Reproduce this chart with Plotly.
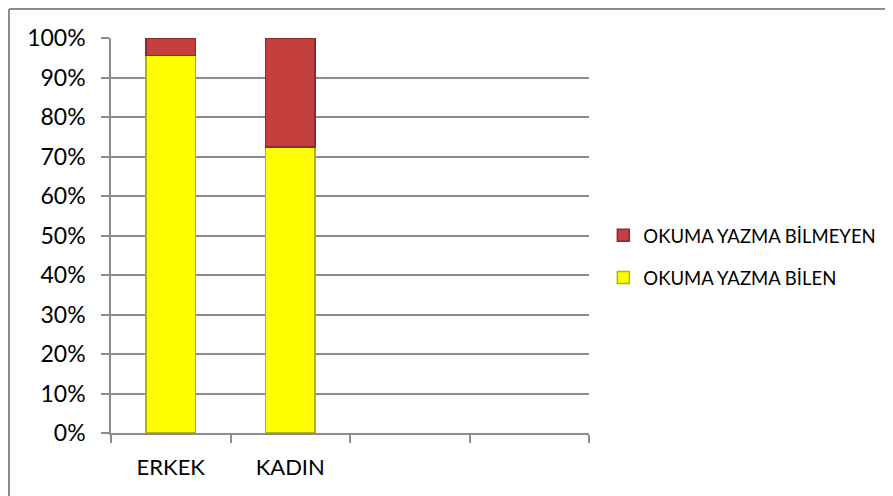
import plotly.graph_objects as go

categories = ["ERKEK", "KADIN", " ", "  "]
bilen = [0.956, 0.724, None, None]
bilmeyen = [0.044, 0.276, None, None]
series_names = ["OKUMA YAZMA BİLEN", "OKUMA YAZMA BİLMEYEN"]
y_ticks = [i / 10 for i in range(11)]

FONT = "Lato"

fig = go.Figure()
fig.add_trace(go.Bar(
    x=categories, y=bilen, name=series_names[0], legendgroup="a", legendrank=2,
    marker=dict(color="#FFFF00", line=dict(color="#B5B500", width=1.5)),
    width=0.415,
))
fig.add_trace(go.Bar(
    x=categories, y=bilmeyen, name=series_names[1], legendgroup="b", legendrank=1,
    marker=dict(color="#C53F3F", line=dict(color="#8A2A2A", width=1.5)),
    width=0.415,
))

fig.update_layout(
    barmode="stack",
    width=893, height=496,
    margin=dict(l=103, r=312, t=30, b=71),
    paper_bgcolor="white", plot_bgcolor="white",
    font=dict(family=FONT, color="black"),
    showlegend=True,
    legend=dict(
        x=1.03, xanchor="left", y=0.446, yanchor="middle",
        traceorder="grouped", tracegroupgap=15,
        font=dict(size=18.5, family=FONT), bgcolor="rgba(0,0,0,0)",
    ),
    xaxis=dict(
        type="category", categoryorder="array", categoryarray=categories,
        range=[-0.5, 3.5], tickson="boundaries", ticks="outside", ticklen=8,
        tickcolor="#8C8C8C", tickwidth=1.5,
        showline=True, linecolor="#8C8C8C", linewidth=1.5,
        showgrid=False, tickfont=dict(size=22, family=FONT),
        ticklabelstandoff=14, fixedrange=True,
    ),
    yaxis=dict(
        range=[0, 1], tickvals=y_ticks, tickformat=".0%",
        ticks="outside", ticklen=8, tickcolor="#8C8C8C", tickwidth=1.5,
        showline=True, linecolor="#8C8C8C", linewidth=1.5,
        showgrid=True, gridcolor="#8C8C8C", gridwidth=1.5,
        zeroline=False, tickfont=dict(size=23, family=FONT),
        ticklabelstandoff=11, fixedrange=True,
    ),
    bargap=0.585,
)

# outer chart border (top and left edges visible)
fig.add_shape(type="line", xref="paper", yref="paper",
              x0=-0.2134, x1=2.0, y0=1.0734, y1=1.0734,
              line=dict(color="#8C8C8C", width=2))
fig.add_shape(type="line", xref="paper", yref="paper",
              x0=-0.2134, x1=-0.2134, y0=1.0734, y1=-1.0,
              line=dict(color="#8C8C8C", width=2))

fig.write_html("out.html")
